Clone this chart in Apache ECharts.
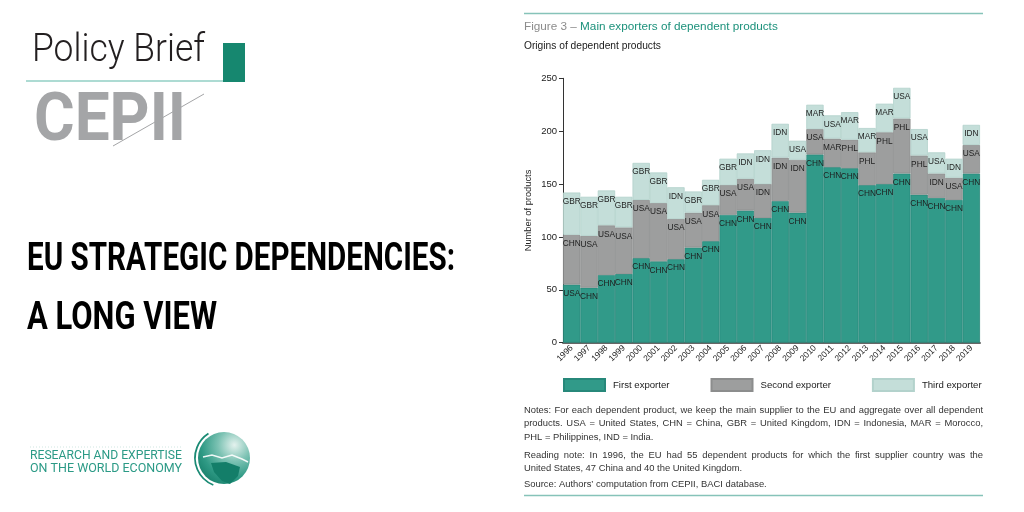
<!DOCTYPE html>
<html>
<head>
<meta charset="utf-8">
<script src="https://cdn.jsdelivr.net/npm/echarts@6/dist/echarts.min.js"></script>
<style>
html,body{margin:0;padding:0;background:#fff;}
#c{width:1024px;height:512px;}
</style>
</head>
<body>
<div id="c"></div>
<script>
// ---- data ----
const years = ['1996','1997','1998','1999','2000','2001','2002','2003','2004','2005','2006','2007','2008','2009','2010','2011','2012','2013','2014','2015','2016','2017','2018','2019'];
const firstVals  = [55,52,64,65,80,77,79,90,96,121,125,118,134,123,178,166,165,149,150,160,140,137,135,160];
const secondVals = [47,49,47,44,55,55,38,33,34,28,30,32,41,50,24,27,27,31,49,52,37,23,21,27];
const thirdVals  = [40,37,33,29,35,29,30,20,24,25,24,32,32,18,23,22,26,23,27,29,25,20,18,19];
const firstCodes  = ['USA','CHN','CHN','CHN','CHN','CHN','CHN','CHN','CHN','CHN','CHN','CHN','CHN','CHN','CHN','CHN','CHN','CHN','CHN','CHN','CHN','CHN','CHN','CHN'];
const secondCodes = ['CHN','USA','USA','USA','USA','USA','USA','USA','USA','USA','USA','IDN','IDN','IDN','USA','MAR','PHL','PHL','PHL','PHL','PHL','IDN','USA','USA'];
const thirdCodes  = ['GBR','GBR','GBR','GBR','GBR','GBR','IDN','GBR','GBR','GBR','IDN','IDN','IDN','USA','MAR','USA','MAR','MAR','MAR','USA','USA','USA','IDN','IDN'];
const seriesNames = ['First exporter','Second exporter','Third exporter'];
const yTicks = {min:0, max:250, interval:50};

// ---- helpers ----
const mctx = document.createElement('canvas').getContext('2d');
function tw(text, font){ mctx.font = font; return mctx.measureText(text).width; }
const SANS = '"Liberation Sans", Arial, sans-serif';

function txt(x, y, text, size, opts){
  opts = opts || {};
  return {
    type:'text', x:x, y:y, scaleX: opts.scaleX || 1, silent:true,
    style:{ text:text, fontSize:size, fontFamily: opts.family || SANS, fontWeight: opts.weight || 'normal',
      fill: opts.fill || '#222', align: opts.align || 'left', verticalAlign: opts.va || 'middle' }
  };
}
function fitText(x, y, text, size, targetW, opts){
  opts = opts || {};
  const fam = opts.family || SANS;
  const w = tw(text, (opts.weight||'normal') + ' ' + size + 'px ' + fam);
  opts.scaleX = targetW / w;
  return txt(x, y, text, size, opts);
}
function justified(x0, x1, y, line, size, fill){
  const font = size + 'px ' + SANS;
  const words = line.split(' ');
  const ws = words.map(w => tw(w, font));
  const sum = ws.reduce((a,b)=>a+b,0);
  const gap = (x1 - x0 - sum) / (words.length - 1);
  const els = [];
  let x = x0;
  words.forEach((w,i)=>{ els.push(txt(x, y, w, size, {fill:fill})); x += ws[i] + gap; });
  return els;
}

// ---- decoration ----
const graphics = [];
// left panel
graphics.push(fitText(32, 51, 'Policy Brief', 39, 173, {family:'Roboto', weight:'300', fill:'#231f20'}));
graphics.push({type:'rect', silent:true, shape:{x:223, y:43, width:22, height:39}, style:{fill:'#16876f'}});
graphics.push({type:'line', silent:true, shape:{x1:26, y1:81, x2:223, y2:81}, style:{stroke:'#5cb8a8', lineWidth:1.2}});
graphics.push(fitText(34, 123, 'CEPII', 66, 152, {family:'Roboto', weight:'bold', fill:'#a4a5a7'}));
graphics.push({type:'line', silent:true, shape:{x1:113, y1:146, x2:204, y2:94}, style:{stroke:'#a4a5a7', lineWidth:1}});
graphics.push(fitText(27, 260, 'EU STRATEGIC DEPENDENCIES:', 39, 428, {family:'Roboto', weight:'bold', fill:'#000'}));
graphics.push(fitText(27, 319, 'A LONG VIEW', 39, 190, {family:'Roboto', weight:'bold', fill:'#000'}));
graphics.push(fitText(30, 456, 'RESEARCH AND EXPERTISE', 13.5, 152, {family:'Roboto', weight:'normal', fill:'#2b9a86'}));
graphics.push(fitText(30, 468.5, 'ON THE WORLD ECONOMY', 13.5, 152, {family:'Roboto', weight:'normal', fill:'#2b9a86'}));
graphics.push({type:'line', silent:true, shape:{x1:30, y1:447, x2:182, y2:447}, style:{stroke:'#cfe6e1', lineWidth:1, lineDash:[1,2]}});
// globe
graphics.push({type:'circle', silent:true, shape:{cx:224, cy:458, r:26},
  style:{fill:{type:'radial', x:0.7, y:0.25, r:0.9, colorStops:[{offset:0,color:'#e4f2ee'},{offset:0.35,color:'#7cc2b3'},{offset:0.7,color:'#2f9a85'},{offset:1,color:'#137c67'}]}}});
graphics.push({type:'polyline', silent:true, shape:{points:[[203,457],[212,455],[222,458],[232,455],[242,459],[248,462]]}, style:{stroke:'#ffffff', lineWidth:1.5, opacity:0.9}});
graphics.push({type:'polygon', silent:true, shape:{points:[[211,463],[226,462],[240,467],[238,476],[230,484],[222,481],[214,472]]}, style:{fill:'#137e69'}});
graphics.push({type:'arc', silent:true, shape:{cx:224, cy:458, r:29, startAngle:Math.PI*0.62, endAngle:Math.PI*1.32}, style:{stroke:'#1a8a74', lineWidth:1.8, fill:null}});

// right panel
graphics.push({type:'line', silent:true, shape:{x1:524, y1:13.5, x2:983, y2:13.5}, style:{stroke:'#86c3b9', lineWidth:1.5}});
graphics.push({type:'line', silent:true, shape:{x1:524, y1:495.5, x2:983, y2:495.5}, style:{stroke:'#86c3b9', lineWidth:1.5}});
(function(){
  const p1 = 'Figure 3 \u2013 ', p2 = 'Main exporters of dependent products';
  const base = 12;
  const full = tw(p1 + p2, base + 'px ' + SANS);
  const s = base * 254 / full;
  graphics.push(txt(524, 27, p1, s, {fill:'#8c8c8c'}));
  graphics.push(txt(524 + tw(p1, s + 'px ' + SANS), 27, p2, s, {fill:'#1c917b'}));
  const sub = 'Origins of dependent products';
  const s2 = 10 * 137 / tw(sub, '10px ' + SANS);
  graphics.push(txt(524, 46.5, sub, s2, {fill:'#1a1a1a'}));
  const src = 'Source: Authors\u2019 computation from CEPII, BACI database.';
  const ns = 10 * 243 / tw(src, '10px ' + SANS);
  const X0 = 524, X1 = 983, nc = '#333';
  justified(X0, X1, 410.5, 'Notes: For each dependent product, we keep the main supplier to the EU and aggregate over all dependent', ns, nc).forEach(e=>graphics.push(e));
  justified(X0, X1, 423.5, 'products. USA = United States, CHN = China, GBR = United Kingdom, IDN = Indonesia, MAR = Morocco,', ns, nc).forEach(e=>graphics.push(e));
  graphics.push(txt(X0, 437, 'PHL = Philippines, IND = India.', ns, {fill:nc}));
  justified(X0, X1, 455, 'Reading note: In 1996, the EU had 55 dependent products for which the first supplier country was the', ns, nc).forEach(e=>graphics.push(e));
  graphics.push(txt(X0, 468.5, 'United States, 47 China and 40 the United Kingdom.', ns, {fill:nc}));
  graphics.push(txt(X0, 484.5, src, ns, {fill:nc}));
})();

function barSeries(name, vals, codes, color, border){
  return {
    name:name, type:'bar', stack:'total', data:vals, barCategoryGap:'0%',
    itemStyle:{color:color, borderColor:border, borderWidth:0.8},
    label:{show:true, position:'insideTop', distance:5, fontSize:8.3, fontFamily:SANS, color:'#1e1e1e',
      formatter:(p)=>codes[p.dataIndex]},
    emphasis:{disabled:true}, animation:false
  };
}

const chart = echarts.init(document.getElementById('c'), null, {renderer:'canvas'});
chart.setOption({
  animation:false,
  backgroundColor:'#fff',
  grid:{left:563, right:44, top:78.3, bottom:169.3, containLabel:false},
  legend:{
    data:seriesNames, left:563, top:378, padding:0, itemWidth:41, itemHeight:12, itemGap:41,
    icon:'rect', selectedMode:false,
    textStyle:{fontSize:9.6, fontFamily:SANS, color:'#222', padding:[0,0,0,3]}
  },
  xAxis:{
    type:'category', data:years,
    axisLine:{show:true, lineStyle:{color:'#666', width:2}},
    axisTick:{show:false},
    axisLabel:{rotate:45, interval:0, fontSize:8.5, fontFamily:SANS, color:'#222', margin:4}
  },
  yAxis:{
    type:'value', min:yTicks.min, max:yTicks.max, interval:yTicks.interval,
    name:'Number of products', nameLocation:'middle', nameGap:30,
    nameTextStyle:{fontSize:9.3, fontFamily:SANS, color:'#222'},
    axisLine:{show:true, lineStyle:{color:'#333', width:1}},
    axisTick:{show:true, length:4, lineStyle:{color:'#333'}},
    axisLabel:{fontSize:9.5, fontFamily:SANS, color:'#222', margin:6},
    splitLine:{show:false}
  },
  series:[
    barSeries(seriesNames[0], firstVals, firstCodes, '#319a89', '#27887a'),
    barSeries(seriesNames[1], secondVals, secondCodes, '#9d9e9e', '#8c8d8d'),
    barSeries(seriesNames[2], thirdVals, thirdCodes, '#c4ded9', '#b3d2cc')
  ],
  graphic: graphics
});
</script>
</body>
</html>
